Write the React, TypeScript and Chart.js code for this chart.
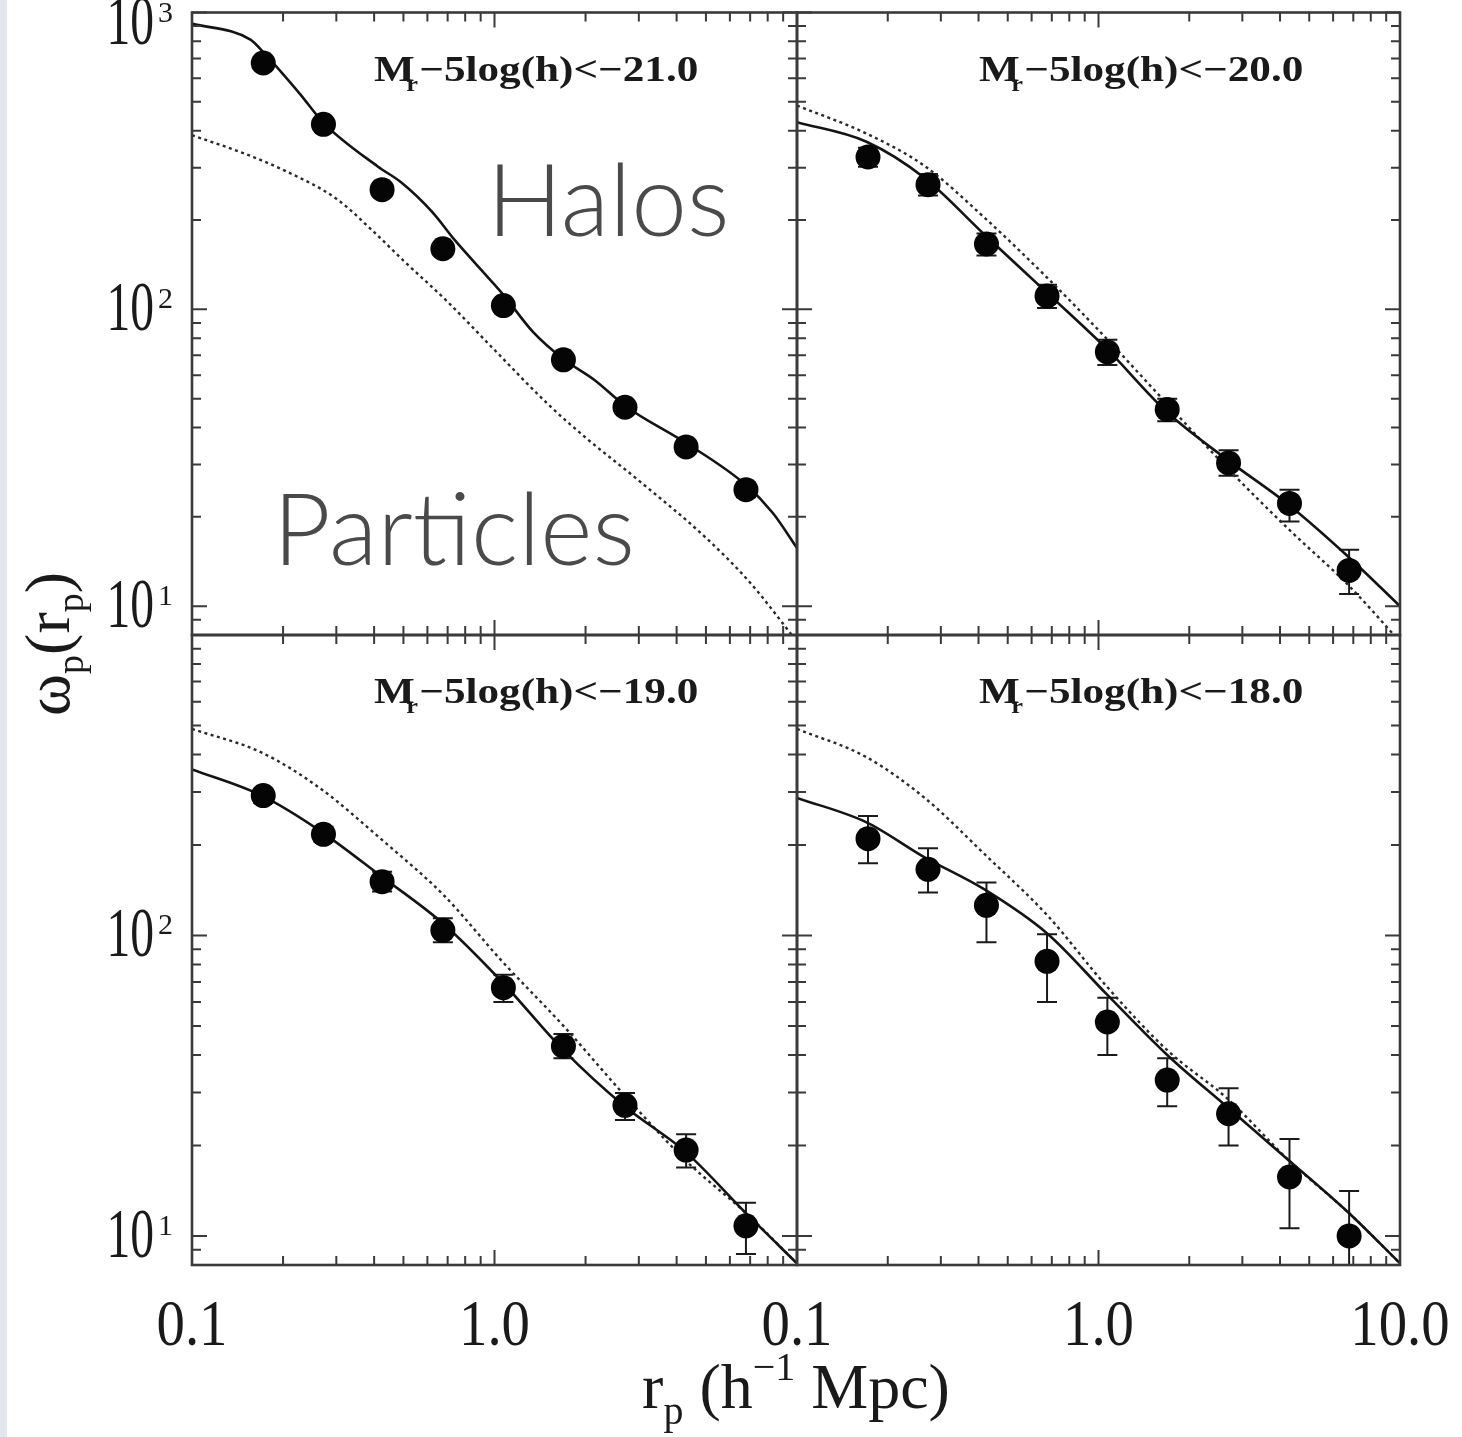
import React, { useEffect, useRef } from "react";
import { Chart, registerables } from "chart.js";

Chart.register(...registerables);

const PAGE_W = 1462;
const PAGE_H = 1437;

// axis ranges
const X_MIN = 0.1;
const X_MAX = 10;
const Y_MIN = 8;
const Y_MAX = 1000;

// ticks
const xMajorTicks = [0.1, 1, 10];
const xMinorTicks = [0.2, 0.3, 0.4, 0.5, 0.6, 0.7, 0.8, 0.9, 2, 3, 4, 5, 6, 7, 8, 9];
const yMajorTicks = [10, 100, 1000];
const yMinorTicks = [9, 20, 30, 40, 50, 60, 70, 80, 90, 200, 300, 400, 500, 600, 700, 800, 900];
const xTickValues = [0.1, 1, 10];
const xTickTexts = ["0.1", "1.0", "10.0"];
const yTickValues = [10, 100, 1000];
const yTickExps = ["1", "2", "3"];

// measured points (projected separation bins)
const rData = [0.172, 0.272, 0.425, 0.675, 1.07, 1.69, 2.7, 4.3, 6.78];
const rModel = [0.1, 0.17, 0.265, 0.42, 0.68, 1.06, 1.69, 2.69, 4.29, 6.78, 10];

// Mr - 5log(h) < -21.0
const wp21 = [676, 420, 253, 160, 103, 67.6, 46.8, 34.4, 24.7];
const wp21Lo = [650, 402, 242, 153, 98.5, 64.5, 44.6, 32.6, 23.3];
const wp21Hi = [702, 438, 264, 167, 107.5, 70.7, 49, 36.2, 26.1];
const rHalo21 = [0.1, 0.156, 0.172, 0.228, 0.272, 0.411, 0.491, 0.622, 0.743, 0.94, 1.07, 1.34, 1.69, 2.14, 2.72, 4.29, 6.78, 8.32, 10];
const halo21 = [918, 810, 735, 530, 425, 303, 268, 213, 170, 130, 112, 84, 68, 57.8, 47.1, 35.5, 25.6, 20.6, 15.7];
const rPart21 = [0.1, 0.15, 0.2, 0.3, 0.4, 0.5, 0.7, 1.0, 1.5, 2.0, 3.0, 5.0, 7.0, 10];
const part21 = [386, 334, 295, 236, 182, 146, 106, 73, 48, 37, 26.5, 17, 12, 7.6];

// Mr - 5log(h) < -20.0
const wp20 = [326, 263, 166, 111, 71.9, 46, 30.4, 22.2, 13.2];
const wp20Lo = [302, 242, 152, 101, 65, 42, 27.5, 19.3, 11];
const wp20Hi = [350, 286, 180, 121, 79, 50, 33.5, 24.7, 15.5];
const halo20 = [427, 367, 277, 178, 113, 74, 45, 31, 21.9, 14.6, 10];
const part20 = [486, 391, 304, 203, 127, 80, 48, 29, 18.1, 11.7, 7.6];

// Mr - 5log(h) < -19.0
const wp19 = [292, 217, 151, 104, 67, 42.8, 27.2, 19.3, 10.8];
const wp19Lo = [276, 205, 140, 95, 60, 39, 24.3, 16.9, 8.7];
const wp19Hi = [308, 230, 163, 114, 74, 47, 29.9, 21.8, 12.9];
const halo19 = [357, 292, 223, 158, 109, 70, 41.5, 27, 19, 11.9, 8.1];
const part19 = [487, 406, 309, 210, 136, 82, 50, 29.4, 17.8, 11.9, 8.1];

// Mr - 5log(h) < -18.0
const wp18 = [210, 166, 126, 82, 51.5, 33, 25.5, 15.7, 10];
const wp18Lo = [174, 139, 95, 60, 40, 27, 20, 10.6, 6];
const wp18Hi = [250, 195, 150, 101, 62, 39, 31, 21, 14.1];
const halo18 = [287, 238, 182, 142, 101, 64, 40, 26.7, 17.8, 11.9, 8.1];
const part18 = [487, 392, 287, 186, 116, 68, 41.5, 28.5, 17.8, 11.9, 8.1];

const magLimits = ["\u221221.0", "\u221220.0", "\u221219.0", "\u221218.0"];

const FRAME = "#3a3a3a";
const INK = "#1a1a1a";
const SERIF = '"Liberation Serif", "DejaVu Serif", serif';

type Area = { left: number; top: number; right: number; bottom: number };
type PanelSpec = {
  area: Area;
  rPts: number[];
  wp: number[];
  lo: number[];
  hi: number[];
  rHalo: number[];
  halo: number[];
  rPart: number[];
  part: number[];
  mag: string;
  xLabelCount: number;
  yLabelCount: number;
  extra: "annot" | "titles" | "none";
};

function drawCondensed(ctx: CanvasRenderingContext2D, text: string, x: number, y: number, font: string, sx: number, align: CanvasTextAlign) {
  ctx.save();
  ctx.translate(x, y);
  ctx.scale(sx, 1);
  ctx.font = font;
  ctx.textAlign = align;
  ctx.textBaseline = "alphabetic";
  ctx.fillText(text, 0, 0);
  ctx.restore();
}

function makeDecoPlugin(spec: PanelSpec) {
  return {
    id: "panelDeco",
    beforeDatasetsDraw(chart: any) {
      const ctx: CanvasRenderingContext2D = chart.ctx;
      const a = chart.chartArea;
      const xs = chart.scales.x;
      const ys = chart.scales.y;
      ctx.save();
      ctx.beginPath();
      ctx.rect(a.left, a.top, a.right - a.left, a.bottom - a.top);
      ctx.clip();
      ctx.strokeStyle = INK;
      ctx.lineWidth = 2;
      spec.rPts.forEach((r, i) => {
        const px = xs.getPixelForValue(r);
        const pl = ys.getPixelForValue(spec.lo[i]);
        const ph = ys.getPixelForValue(spec.hi[i]);
        ctx.beginPath();
        ctx.moveTo(px, pl);
        ctx.lineTo(px, ph);
        ctx.moveTo(px - 10, pl);
        ctx.lineTo(px + 10, pl);
        ctx.moveTo(px - 10, ph);
        ctx.lineTo(px + 10, ph);
        ctx.stroke();
      });
      ctx.restore();
    },
    afterDatasetsDraw(chart: any) {
      const ctx: CanvasRenderingContext2D = chart.ctx;
      const a = chart.chartArea;
      const xs = chart.scales.x;
      const ys = chart.scales.y;
      ctx.save();
      ctx.strokeStyle = FRAME;
      ctx.lineWidth = 2;
      ctx.beginPath();
      const xt = (v: number, len: number) => {
        const px = xs.getPixelForValue(v);
        ctx.moveTo(px, a.top);
        ctx.lineTo(px, a.top + len);
        ctx.moveTo(px, a.bottom);
        ctx.lineTo(px, a.bottom - len);
      };
      const yt = (v: number, len: number) => {
        const py = ys.getPixelForValue(v);
        ctx.moveTo(a.left, py);
        ctx.lineTo(a.left + len, py);
        ctx.moveTo(a.right, py);
        ctx.lineTo(a.right - len, py);
      };
      xMajorTicks.forEach((v) => xt(v, 15));
      xMinorTicks.forEach((v) => xt(v, 9));
      yMajorTicks.forEach((v) => yt(v, 15));
      yMinorTicks.forEach((v) => yt(v, 9));
      ctx.stroke();
      ctx.lineWidth = 2.6;
      ctx.strokeRect(a.left, a.top, a.right - a.left, a.bottom - a.top);
      ctx.restore();
    },
    afterDraw(chart: any) {
      const ctx: CanvasRenderingContext2D = chart.ctx;
      const a = chart.chartArea;
      const xs = chart.scales.x;
      const ys = chart.scales.y;
      ctx.save();
      ctx.fillStyle = INK;

      // y tick labels
      for (let i = 0; i < spec.yLabelCount; i++) {
        const py = ys.getPixelForValue(yTickValues[i]);
        const base = Math.max(py + 21, 44);
        drawCondensed(ctx, "10", a.left - 38, base, `70px ${SERIF}`, 0.68, "right");
        ctx.font = `30px ${SERIF}`;
        ctx.textAlign = "left";
        ctx.fillText(yTickExps[i], a.left - 34, base - 22);
      }
      // x tick labels
      for (let i = 0; i < spec.xLabelCount; i++) {
        const px = xs.getPixelForValue(xTickValues[i]);
        drawCondensed(ctx, xTickTexts[i], px, a.bottom + 80, `66px ${SERIF}`, 0.86, "center");
      }

      // panel label  M_r - 5log(h) < mag
      {
        ctx.save();
        ctx.translate(a.left + 182, a.top + 68);
        ctx.scale(1.2, 1);
        ctx.textAlign = "left";
        ctx.font = `bold 36px ${SERIF}`;
        ctx.fillText("M", 0, 0);
        const mw = ctx.measureText("M").width;
        ctx.font = `bold 22px ${SERIF}`;
        ctx.fillText("r", mw - 7, 10);
        const rw = ctx.measureText("r").width;
        ctx.font = `bold 36px ${SERIF}`;
        ctx.fillText("\u22125log(h)<" + spec.mag, mw - 7 + rw + 1, 0);
        ctx.restore();
      }

      if (spec.extra === "annot") {
        ctx.fillStyle = "#4a4a4a";
        ctx.font = `300 100px Lato, "Open Sans", sans-serif`;
        ctx.textAlign = "left";
        ctx.fillText("Halos", 487, 236);
        ctx.fillText("Particles", 273, 565);
      }

      if (spec.extra === "titles") {
        ctx.fillStyle = INK;
        // x title: r_p (h^-1 Mpc)
        const big = `64px ${SERIF}`;
        const small = `40px ${SERIF}`;
        const parts: [string, string, number][] = [
          ["r", big, 0],
          ["p", small, 16],
          [" (h", big, 0],
          ["\u22121", small, -28],
          [" Mpc)", big, 0],
        ];
        let total = 0;
        parts.forEach(([t, f]) => {
          ctx.font = f;
          total += ctx.measureText(t).width;
        });
        let cx = 796 - total / 2;
        ctx.textAlign = "left";
        parts.forEach(([t, f, dy]) => {
          ctx.font = f;
          ctx.fillText(t, cx, 1408 + dy);
          cx += ctx.measureText(t).width;
        });

        // y title: omega_p(r_p), rotated
        const yBig = `64px ${SERIF}`;
        const ySmall = `38px ${SERIF}`;
        const yparts: [string, string, number][] = [
          ["\u03c9", yBig, 0],
          ["p", ySmall, 14],
          ["(r", yBig, 0],
          ["p", ySmall, 14],
          [")", yBig, 0],
        ];
        let ytot = 0;
        yparts.forEach(([t, f]) => {
          ctx.font = f;
          ytot += ctx.measureText(t).width;
        });
        ctx.save();
        ctx.translate(69, 644);
        ctx.rotate(-Math.PI / 2);
        let cy = -ytot / 2;
        yparts.forEach(([t, f, dy]) => {
          ctx.font = f;
          ctx.fillText(t, cy, dy);
          cy += ctx.measureText(t).width;
        });
        ctx.restore();
      }
      ctx.restore();
    },
  };
}

function toXY(xs: number[], ys: number[]) {
  return xs.map((x, i) => ({ x, y: ys[i] }));
}

function buildConfig(spec: PanelSpec): any {
  const a = spec.area;
  return {
    type: "scatter",
    data: {
      datasets: [
        {
          type: "scatter",
          data: toXY(spec.rPts, spec.wp),
          pointRadius: 12.5,
          pointBackgroundColor: "#050505",
          pointBorderWidth: 0,
          pointBorderColor: "#050505",
        },
        {
          type: "line",
          data: toXY(spec.rHalo, spec.halo),
          borderColor: "#141414",
          borderWidth: 2.6,
          pointRadius: 0,
          cubicInterpolationMode: "monotone",
          fill: false,
        },
        {
          type: "line",
          data: toXY(spec.rPart, spec.part),
          borderColor: "#2a2a2a",
          borderWidth: 2.4,
          borderDash: [3, 3.5],
          pointRadius: 0,
          cubicInterpolationMode: "monotone",
          fill: false,
        },
      ],
    },
    options: {
      responsive: false,
      animation: false,
      devicePixelRatio: 1,
      events: [],
      layout: {
        padding: { left: a.left, top: a.top, right: PAGE_W - a.right, bottom: PAGE_H - a.bottom },
      },
      scales: {
        x: { type: "logarithmic", min: X_MIN, max: X_MAX, display: false },
        y: { type: "logarithmic", min: Y_MIN, max: Y_MAX, display: false },
      },
      plugins: {
        legend: { display: false },
        tooltip: { enabled: false },
        title: { display: false },
      },
    },
    plugins: [makeDecoPlugin(spec)],
  };
}

const panels: PanelSpec[] = [
  {
    area: { left: 192, top: 5, right: 797, bottom: 635 },
    rPts: rData, wp: wp21, lo: wp21Lo, hi: wp21Hi,
    rHalo: rHalo21, halo: halo21, rPart: rPart21, part: part21,
    mag: magLimits[0], xLabelCount: 0, yLabelCount: 3, extra: "annot",
  },
  {
    area: { left: 797, top: 5, right: 1400, bottom: 635 },
    rPts: rData, wp: wp20, lo: wp20Lo, hi: wp20Hi,
    rHalo: rModel, halo: halo20, rPart: rModel, part: part20,
    mag: magLimits[1], xLabelCount: 0, yLabelCount: 0, extra: "none",
  },
  {
    area: { left: 192, top: 635, right: 797, bottom: 1265 },
    rPts: rData, wp: wp19, lo: wp19Lo, hi: wp19Hi,
    rHalo: rModel, halo: halo19, rPart: rModel, part: part19,
    mag: magLimits[2], xLabelCount: 2, yLabelCount: 2, extra: "titles",
  },
  {
    area: { left: 797, top: 635, right: 1400, bottom: 1265 },
    rPts: rData, wp: wp18, lo: wp18Lo, hi: wp18Hi,
    rHalo: rModel, halo: halo18, rPart: rModel, part: part18,
    mag: magLimits[3], xLabelCount: 3, yLabelCount: 0, extra: "none",
  },
];

function PanelChart({ spec }: { spec: PanelSpec }) {
  const ref = useRef<HTMLCanvasElement>(null);
  useEffect(() => {
    const canvas = ref.current;
    if (!canvas) return;
    const chart = new Chart(canvas, buildConfig(spec));
    return () => chart.destroy();
  }, [spec]);
  return (
    <canvas
      ref={ref}
      width={PAGE_W}
      height={PAGE_H}
      style={{ position: "absolute", left: 0, top: 0, width: PAGE_W, height: PAGE_H }}
    />
  );
}

export default function App() {
  return (
    <div
      style={{
        position: "absolute",
        left: 0,
        top: 0,
        width: PAGE_W,
        height: PAGE_H,
        background: "#ffffff",
        overflow: "hidden",
      }}
    >
      <div style={{ position: "absolute", left: 0, top: 0, width: 7, height: PAGE_H, background: "#e3e6eb" }} />
      {panels.map((p, i) => (
        <PanelChart key={i} spec={p} />
      ))}
    </div>
  );
}
